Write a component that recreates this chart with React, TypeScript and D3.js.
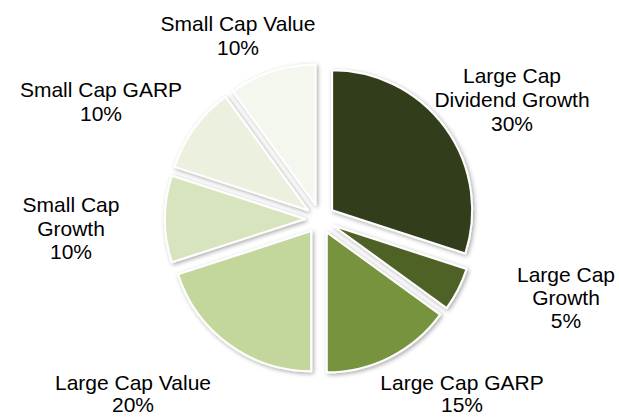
import React from "react";
import * as d3 from "d3";

const categories = [
  "Large Cap\nDividend Growth",
  "Large Cap\nGrowth",
  "Large Cap GARP",
  "Large Cap Value",
  "Small Cap\nGrowth",
  "Small Cap GARP",
  "Small Cap Value",
];
const values = [30, 5, 15, 20, 10, 10, 10];
const colors = ["#323e1a", "#4f6228", "#77933c", "#c3d69b", "#d7e4bd", "#ebf1de", "#f4f7ee"];

// label anchor layout (center x, first baseline y, line height)
const labelLayout: [number, number, number][] = [
  [512, 83, 24],
  [566, 282, 23],
  [462, 390, 22],
  [133, 390, 22],
  [71, 212, 23.5],
  [101, 97, 24],
  [238, 31, 24],
];

const W = 619;
const H = 417;
const CX = 320;
const CY = 219;
const R = 140;
const EXPLODE = 15;

export default function App() {
  const pie = d3.pie<number>().sort(null).value((d) => d).startAngle(0).endAngle(2 * Math.PI);
  const arcs = pie(values);
  const arc = d3.arc<d3.PieArcDatum<number>>().innerRadius(0).outerRadius(R);
  const total = d3.sum(values);
  const fmt = d3.format(".0%");

  return (
    <svg
      width={W}
      height={H}
      style={{ position: "absolute", left: 0, top: 0, background: "#fff" }}
      fontFamily="'Liberation Sans', Arial, sans-serif"
    >
      <defs>
        <filter id="sh" x="-20%" y="-20%" width="140%" height="140%">
          <feDropShadow dx="1.5" dy="1.5" stdDeviation="2" floodColor="#000" floodOpacity="0.35" />
        </filter>
      </defs>
      <g transform={`translate(${CX},${CY})`}>
        {arcs.map((a, i) => {
          const mid = (a.startAngle + a.endAngle) / 2;
          const dx = Math.sin(mid) * EXPLODE;
          const dy = -Math.cos(mid) * EXPLODE;
          return (
            <path
              key={i}
              d={arc(a) || ""}
              transform={`translate(${dx},${dy})`}
              fill={colors[i]}
              stroke="#ffffff"
              strokeWidth={2}
              strokeLinejoin="round"
              filter="url(#sh)"
            />
          );
        })}
      </g>
      {categories.map((c, i) => {
        const lines = c.split("\n").concat([fmt(values[i] / total)]);
        const [x, y, lh] = labelLayout[i];
        return (
          <text key={i} x={x} y={y} textAnchor="middle" fontSize={21} fill="#000">
            {lines.map((l, j) => (
              <tspan key={j} x={x} y={y + j * lh}>
                {l}
              </tspan>
            ))}
          </text>
        );
      })}
    </svg>
  );
}
